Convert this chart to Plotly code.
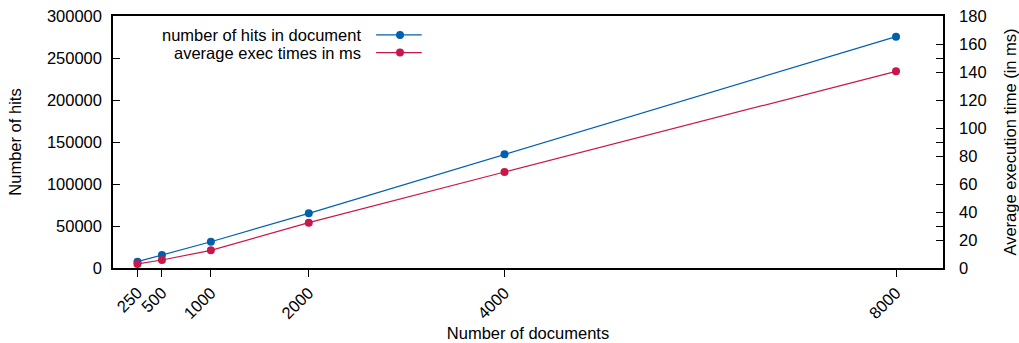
import plotly.graph_objects as go

documents = [250, 500, 1000, 2000, 4000, 8000]
hits = [7500, 15500, 31300, 65100, 135300, 275400]
exec_ms = [2.9, 5.7, 12.6, 32.4, 68.6, 140.5]
x_ticks = [250, 500, 1000, 2000, 4000, 8000]
hits_name = "number of hits in document"
exec_name = "average exec times in ms"

BLUE = "#0060ad"
RED = "#c8174a"
FONT = dict(family="Liberation Sans, Arial, sans-serif", size=16.5, color="black")

fig = go.Figure()
fig.add_trace(go.Scatter(x=documents, y=hits, mode="lines+markers", name=hits_name,
                         line=dict(color=BLUE, width=1.2), marker=dict(color=BLUE, size=8),
                         yaxis="y", showlegend=False))
fig.add_trace(go.Scatter(x=documents, y=exec_ms, mode="lines+markers", name=exec_name,
                         line=dict(color=RED, width=1.2), marker=dict(color=RED, size=8),
                         yaxis="y2", showlegend=False))

# gnuplot-style legend: text right-aligned, sample on the right
legend_rows = [(hits_name, BLUE, 0.925), (exec_name, RED, 0.855)]
for name, col, yp in legend_rows:
    fig.add_annotation(xref="paper", yref="paper", x=0.301, y=yp, text=name, showarrow=False,
                       xanchor="right", yanchor="middle", font=FONT)
    fig.add_shape(type="line", xref="paper", yref="paper", x0=0.317, x1=0.372, y0=yp, y1=yp,
                  line=dict(color=col, width=1.2))
    fig.add_shape(type="circle", xref="paper", yref="paper", x0=0.341, x1=0.3506,
                  y0=yp - 0.0159, y1=yp + 0.0159, fillcolor=col, line=dict(color=col, width=0))

fig.update_layout(
    width=1019, height=343,
    margin=dict(l=113, r=76, t=16, b=75),
    paper_bgcolor="white", plot_bgcolor="white",
    font=FONT,
    xaxis=dict(range=[0, 8480], tickvals=x_ticks, ticktext=[str(v) for v in x_ticks],
               tickangle=-45, ticks="outside", ticklen=7, tickwidth=1.2, tickcolor="black",
               showline=True, linecolor="black", linewidth=1.5, mirror=True,
               showgrid=False, zeroline=False, automargin=False,
               title=dict(text="Number of documents", font=FONT, standoff=6)),
    yaxis=dict(range=[0, 300000], dtick=50000, ticks="inside", ticklen=7, tickwidth=1.2,
               tickcolor="black", showline=True, linecolor="black", linewidth=1.5,
               mirror="ticks", showgrid=False, zeroline=False, tickformat="d",
               ticklabelstandoff=6, automargin=False,
               title=dict(text="Number of hits", font=FONT, standoff=21)),
    yaxis2=dict(range=[0, 180], dtick=20, side="right", overlaying="y", ticks="inside",
                ticklen=7, tickwidth=1.2, tickcolor="black", showline=True, linecolor="black",
                linewidth=1.5, showgrid=False, zeroline=False, ticklabelstandoff=11,
                automargin=False,
                title=dict(text="Average execution time (in ms)", font=FONT, standoff=22)),
)

fig.write_html("out.html", config={"displayModeBar": False},
               post_script="document.body.style.margin='0';")
